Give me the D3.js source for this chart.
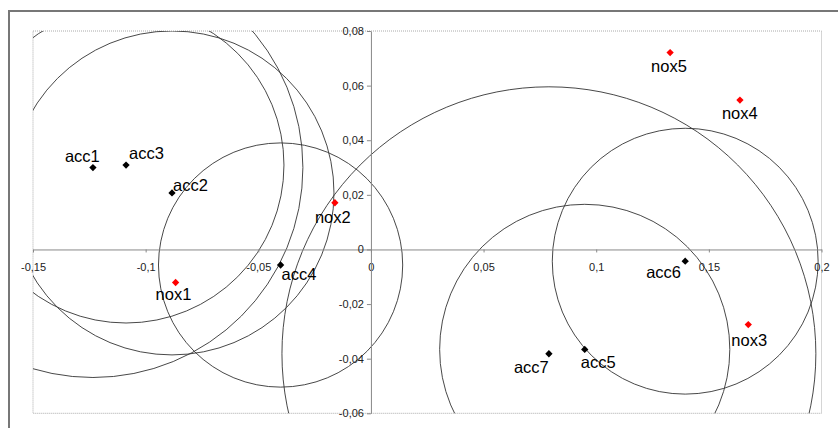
<!DOCTYPE html>
<html>
<head>
<meta charset="utf-8">
<script src="https://cdn.jsdelivr.net/npm/d3@7"></script>
<style>
  body { margin: 0; background: #fff; }
  svg { display: block; font-family: "Liberation Sans", Arial, sans-serif; }
</style>
</head>
<body>
<script>
// points: accessions (black) and nox (red)
const ACC_NAMES = ['acc1', 'acc2', 'acc3', 'acc4', 'acc5', 'acc6', 'acc7'];
const ACC_X = [-0.1234, -0.0883, -0.1087, -0.0401, 0.0949, 0.1395, 0.0790];
const ACC_Y = [0.0300, 0.0207, 0.0309, -0.0057, -0.0366, -0.0043, -0.0382];
// circle radius around each acc point (in x units)
const ACC_R = [0.0932, 0.0719, 0.0701, 0.0542, 0.0644, 0.0590, 0.1185];

const NOX_NAMES = ['nox1', 'nox2', 'nox3', 'nox4', 'nox5'];
const NOX_X = [-0.0867, -0.0160, 0.1675, 0.1638, 0.1328];
const NOX_Y = [-0.0121, 0.0171, -0.0275, 0.0547, 0.0721];

const X_TICKS = [-0.15, -0.1, -0.05, 0, 0.05, 0.1, 0.15, 0.2];
const Y_TICKS = [-0.06, -0.04, -0.02, 0, 0.02, 0.04, 0.06, 0.08];

// label placement relative to the marker (dx, dy of text start/baseline)
const ACC_LABEL_OFF = [[-28, -6], [1, -2], [3, -6], [1, 15], [-4, 19], [-39, 17], [-35, 19]];
const NOX_LABEL_OFF = [[-20, 18], [-20, 20], [-17, 21], [-18, 19], [-19, 19]];

function plot()
{
    const W = 838, H = 428;
    const left = 33, right = 821.5, top = 31, bottom = 413.3;

    const svg = d3.select('body').append('svg')
        .attr('width', W)
        .attr('height', H);

    // chart area frame
    svg.append('rect')
        .attr('x', 9).attr('y', 11)
        .attr('width', W + 10).attr('height', H + 10)
        .attr('fill', 'none')
        .attr('stroke', '#777')
        .attr('stroke-width', 2);

    const scX = d3.scaleLinear().domain([-0.15, 0.2]).range([left, right]);
    const scY = d3.scaleLinear().domain([-0.06, 0.08]).range([bottom, top]);

    // plot area frame
    svg.append('rect')
        .attr('x', left).attr('y', top)
        .attr('width', right - left).attr('height', bottom - top)
        .attr('fill', 'none')
        .attr('stroke', '#aaa')
        .attr('stroke-dasharray', '1,1');

    svg.append('clipPath').attr('id', 'clip')
        .append('rect')
        .attr('x', left).attr('y', top)
        .attr('width', right - left).attr('height', bottom - top);

    const acc = ACC_NAMES.map((n, i) => ({ name: n, x: ACC_X[i], y: ACC_Y[i], r: ACC_R[i], off: ACC_LABEL_OFF[i] }));
    const nox = NOX_NAMES.map((n, i) => ({ name: n, x: NOX_X[i], y: NOX_Y[i], off: NOX_LABEL_OFF[i] }));

    svg.append('g').attr('clip-path', 'url(#clip)')
        .selectAll('circle')
        .data(acc).enter().append('circle')
        .attr('cx', d => scX(d.x))
        .attr('cy', d => scY(d.y))
        .attr('r', d => scX(d.r) - scX(0))
        .attr('fill', 'none')
        .attr('stroke', '#333')
        .attr('stroke-width', 0.9);

    const loc = d3.formatLocale({ decimal: ',', thousands: '.', grouping: [3], currency: ['', ''], minus: '-' });
    const fmt = loc.format('~g');

    const xAxis = svg.append('g')
        .attr('transform', `translate(0,${scY(0)})`)
        .call(d3.axisBottom(scX).tickValues(X_TICKS).tickFormat(fmt).tickSizeInner(3).tickSizeOuter(0).tickPadding(11));
    const yAxis = svg.append('g')
        .attr('transform', `translate(${scX(0)},0)`)
        .call(d3.axisLeft(scY).tickValues(Y_TICKS).tickFormat(fmt).tickSizeInner(4).tickSizeOuter(0).tickPadding(3));

    [xAxis, yAxis].forEach(a => {
        a.select('.domain').attr('stroke', '#888');
        a.selectAll('.tick line').attr('stroke', '#888');
        a.selectAll('.tick text')
            .attr('fill', '#222')
            .style('font-family', '"Liberation Sans", Arial, sans-serif')
            .style('font-size', '11px');
    });

    const diamond = d3.symbol(d3.symbolDiamond2, 34);

    const drawSet = (data, color) => {
        const g = svg.append('g');
        g.selectAll('path')
            .data(data).enter().append('path')
            .attr('d', diamond)
            .attr('transform', d => `translate(${scX(d.x)},${scY(d.y)})`)
            .attr('fill', color);
        g.selectAll('text')
            .data(data).enter().append('text')
            .attr('x', d => scX(d.x) + d.off[0])
            .attr('y', d => scY(d.y) + d.off[1])
            .attr('font-size', 16.5)
            .attr('fill', '#000')
            .text(d => d.name);
    };
    drawSet(acc, '#000');
    drawSet(nox, '#ff0000');
}

function main()
{
    plot();
}

main();
</script>
</body>
</html>
